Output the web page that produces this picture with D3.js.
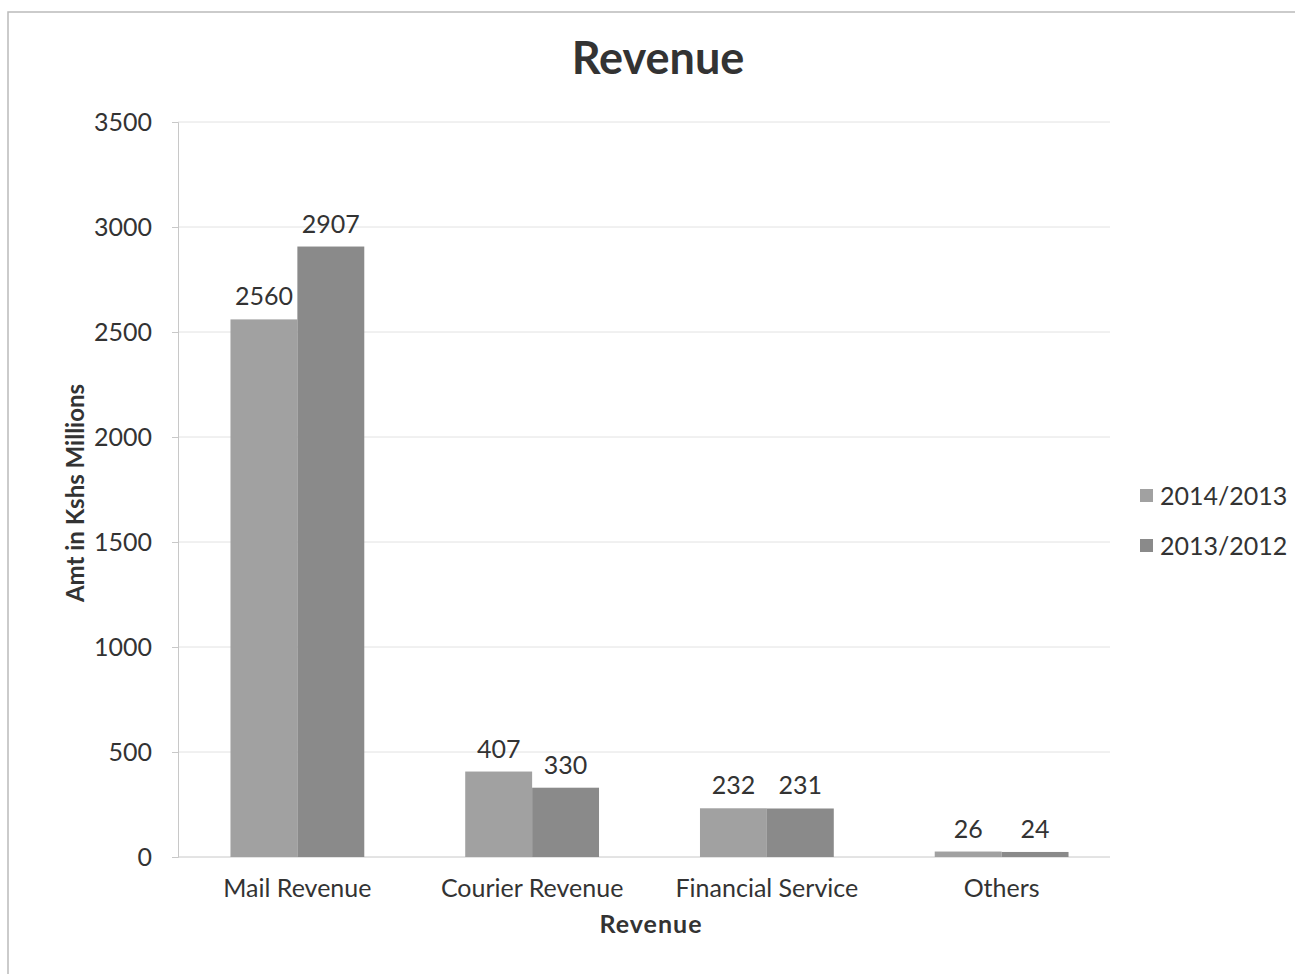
<!DOCTYPE html>
<html>
<head>
<meta charset="utf-8">
<script src="https://cdn.jsdelivr.net/npm/d3@7"></script>
<style>
	body { margin: 0; background: #fff; }
	svg text { font-family: Lato, "Open Sans", sans-serif; fill: #333; }
</style>
</head>
<body>
<svg id="figure_container"></svg>
<script>
var categories = ["Mail Revenue", "Courier Revenue", "Financial Service", "Others"],
	seriesNames = ["2014/2013", "2013/2012"],
	values2014 = [2560, 407, 232, 26],
	values2013 = [2907, 330, 231, 24],
	yTicks = [0, 500, 1000, 1500, 2000, 2500, 3000, 3500],
	colors = ["#a1a1a1", "#8a8a8a"];

var plotwidth = 1295,
	plotheight = 974,
	margin = {left: 178, right: 185, top: 122, bottom: 117};

var vis = d3.select("#figure_container")
	.attr("width", plotwidth)
	.attr("height", plotheight);

// chart frame
vis.append("rect")
	.attr("x", 8).attr("y", 12)
	.attr("width", plotwidth).attr("height", plotheight)
	.attr("fill", "none")
	.attr("stroke", "#bbb")
	.attr("stroke-width", 1.5);

var x0 = d3.scaleBand()
	.domain(categories)
	.range([180, 1119])
	.paddingInner(0.43)
	.paddingOuter(0.215);

var x1 = d3.scaleBand()
	.domain(seriesNames)
	.range([0, x0.bandwidth()]);

var y = d3.scaleLinear()
	.domain([0, 3500])
	.range([plotheight - margin.bottom, margin.top]);

// gridlines
vis.append("g")
	.selectAll("line")
	.data(yTicks)
	.enter()
	.append("line")
	.attr("x1", margin.left)
	.attr("x2", plotwidth - margin.right)
	.attr("y1", function(d){return y(d);})
	.attr("y2", function(d){return y(d);})
	.attr("stroke", function(d){return d === 0 ? "#c8c8c8" : "#e2e2e2";})
	.attr("stroke-width", 1);

// y axis
var yAxis = vis.append("g")
	.attr("transform", "translate(" + margin.left + ",0)")
	.call(d3.axisLeft(y).tickValues(yTicks).tickFormat(d3.format("d")).tickSize(6).tickPadding(20));
yAxis.select(".domain").attr("stroke", "#c8c8c8");
yAxis.selectAll(".tick line").attr("stroke", "#c8c8c8");
yAxis.selectAll(".tick text")
	.attr("font-size", "25px")
	.attr("fill", "#444");

// x axis labels
var xAxis = vis.append("g")
	.attr("transform", "translate(0," + (plotheight - margin.bottom) + ")")
	.call(d3.axisBottom(x0).tickSize(0).tickPadding(22));
xAxis.select(".domain").remove();
xAxis.selectAll(".tick text")
	.attr("font-size", "25px")
	.attr("fill", "#444");

var data = categories.map(function(c, i){
	return {category: c, values: [
		{series: seriesNames[0], value: values2014[i]},
		{series: seriesNames[1], value: values2013[i]}
	]};
});

var groups = vis.selectAll("g.group")
	.data(data)
	.enter()
	.append("g")
	.attr("class", "group")
	.attr("transform", function(d){return "translate(" + x0(d.category) + ",0)";});

groups.selectAll("rect")
	.data(function(d){return d.values;})
	.enter()
	.append("rect")
	.attr("x", function(d){return x1(d.series);})
	.attr("y", function(d){return y(d.value);})
	.attr("width", x1.bandwidth())
	.attr("height", function(d){return y(0) - y(d.value);})
	.attr("fill", function(d, i){return colors[i];});

groups.selectAll("text.label")
	.data(function(d){return d.values;})
	.enter()
	.append("text")
	.attr("class", "label")
	.attr("x", function(d){return x1(d.series) + x1.bandwidth()/2;})
	.attr("y", function(d){return y(d.value) - 14;})
	.attr("text-anchor", "middle")
	.attr("font-size", "25px")
	.text(function(d){return d.value;});

// title
vis.append("text")
	.attr("x", 658).attr("y", 74)
	.attr("text-anchor", "middle")
	.attr("font-size", "45px")
	.attr("font-weight", "bold")
	.attr("fill", "#222")
	.text("Revenue");

// axis titles
vis.append("text")
	.attr("x", 651).attr("y", 933)
	.attr("text-anchor", "middle")
	.attr("font-size", "25px")
	.attr("font-weight", "bold")
	.attr("letter-spacing", "1px")
	.text("Revenue");

vis.append("text")
	.attr("transform", "translate(84,493) rotate(-90)")
	.attr("text-anchor", "middle")
	.attr("font-size", "24px")
	.attr("font-weight", "bold")
	.text("Amt in Kshs Millions");

// legend
var legend = vis.selectAll("g.legend")
	.data(seriesNames)
	.enter()
	.append("g")
	.attr("class", "legend")
	.attr("transform", function(d, i){return "translate(1140," + (496 + i*50) + ")";});

legend.append("rect")
	.attr("x", 0).attr("y", -7)
	.attr("width", 13).attr("height", 13)
	.attr("fill", function(d, i){return colors[i];});

legend.append("text")
	.attr("x", 20).attr("y", 9)
	.attr("font-size", "25px")
	.text(function(d){return d;});
</script>
</body>
</html>
